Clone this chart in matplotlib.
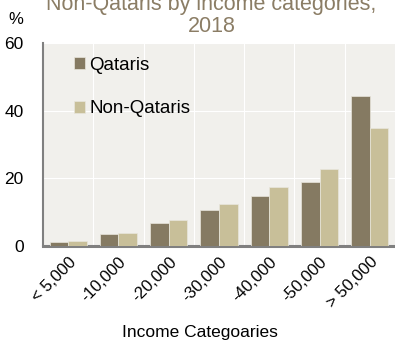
import numpy as np
import matplotlib.pyplot as plt

plt.rcParams['font.family'] = ['Liberation Sans', 'DejaVu Sans']

categories = ['< 5,000', '-10,000', '-20,000', '-30,000', '-40,000', '-50,000', '> 50,000']
qataris = [1.3, 3.5, 6.9, 10.6, 14.8, 18.8, 44.5]
non_qataris = [1.5, 3.9, 7.7, 12.3, 17.5, 22.7, 34.9]

dark = '#857a62'
light = '#c8bf99'

fig = plt.figure(figsize=(3.95, 3.48), dpi=100)
ax = fig.add_axes([0.109, 0.293, 0.891, 0.583])
ax.set_facecolor('#f1f0ec')

x = np.arange(len(categories))
w = 0.37
ax.bar(x - w / 2, qataris, w, color=dark, edgecolor='#e8e6dc', linewidth=0.5, label='Qataris', zorder=3)
ax.bar(x + w / 2, non_qataris, w, color=light, edgecolor='#e8e6dc', linewidth=0.5, label='Non-Qataris', zorder=3)

ax.set_xlim(-0.5, len(categories) - 0.5)
ax.set_ylim(0, 60)
ax.set_yticks([0, 20, 40, 60])
ax.set_xticks(x + 0.5, minor=True)
ax.set_xticks(x)
ax.set_xticklabels(categories, rotation=45, ha='right', rotation_mode='anchor', fontsize=12)
ax.tick_params(axis='y', labelsize=12.5, length=0, pad=14)
ax.tick_params(axis='x', length=0, pad=6)
ax.tick_params(which='minor', length=0)
ax.grid(axis='y', color='white', linewidth=0.8, zorder=0)
ax.grid(axis='x', which='minor', color='white', linewidth=0.8, zorder=0)

for s in ['top', 'right']:
    ax.spines[s].set_visible(False)
ax.spines['left'].set_color('#808080')
ax.spines['left'].set_linewidth(1.5)
ax.spines['bottom'].set_color('#808080')
ax.spines['bottom'].set_linewidth(2.2)

ax.set_xlabel('Income Categoaries', fontsize=12.5, labelpad=10)
ax.xaxis.label.set_x(0.446)

leg = ax.legend(loc='upper left', frameon=False, fontsize=13.5, handlelength=0.6, handleheight=0.6,
                handletextpad=0.2, labelspacing=1.4, bbox_to_anchor=(0.04, 1.015))

fig.text(0.535, 0.955, 'Non-Qataris by income categories,\n2018', ha='center', va='center',
         fontsize=15.5, color='#8b7d65', linespacing=1.1)
fig.text(0.02, 0.945, '%', fontsize=12, ha='left', va='center')

fig.savefig('out.png', dpi=100)
